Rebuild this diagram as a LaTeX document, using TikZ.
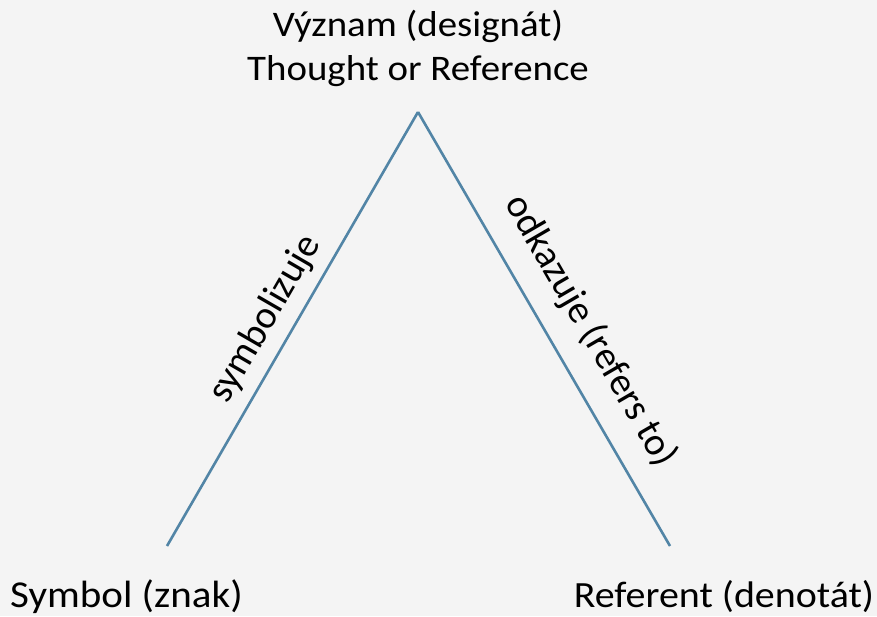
\documentclass[tikz,border=0pt]{standalone}
\usepackage{fontspec}
\setmainfont{Carlito}
\newfontfamily\widefont[FakeStretch=1.08]{Carlito}
\usepackage{xcolor}
\definecolor{bgray}{HTML}{F4F4F4}
\definecolor{lineblue}{HTML}{5285A6}

\begin{document}
\begin{tikzpicture}[x=1pt,y=1pt]
	\fill[bgray] (0,0) rectangle (877,616);
	\useasboundingbox (0,0) rectangle (877,616);
	\coordinate (top) at (418,504);
	\coordinate (l) at (167,70);
	\coordinate (r) at (670,70);
	\node (mean) at (418,535) [anchor=base,inner sep=0pt,align=center,font=\widefont\fontsize{36}{44}\selectfont] {V\'yznam (design\'at)\\Thought or Reference};
	\node (sym) at (126.5,9) [anchor=base,inner sep=0pt,font=\widefont\fontsize{38}{44}\selectfont] {Symbol (znak)};
	\node (ref) at (724,9) [anchor=base,inner sep=0pt,font=\widefont\fontsize{37}{44}\selectfont] {Referent (denot\'at)};

	\draw[lineblue,line width=2.6pt] (l) -- node[pos=0.49,sloped,above=7pt,font=\fontsize{39}{44}\selectfont,text=black] {symbolizuje} (top);
	\draw[lineblue,line width=2.6pt] (top) -- node[pos=0.55,sloped,above=17pt,font=\fontsize{39}{44}\selectfont,text=black] {odkazuje (refers to)} (r);
\end{tikzpicture}
\end{document}
